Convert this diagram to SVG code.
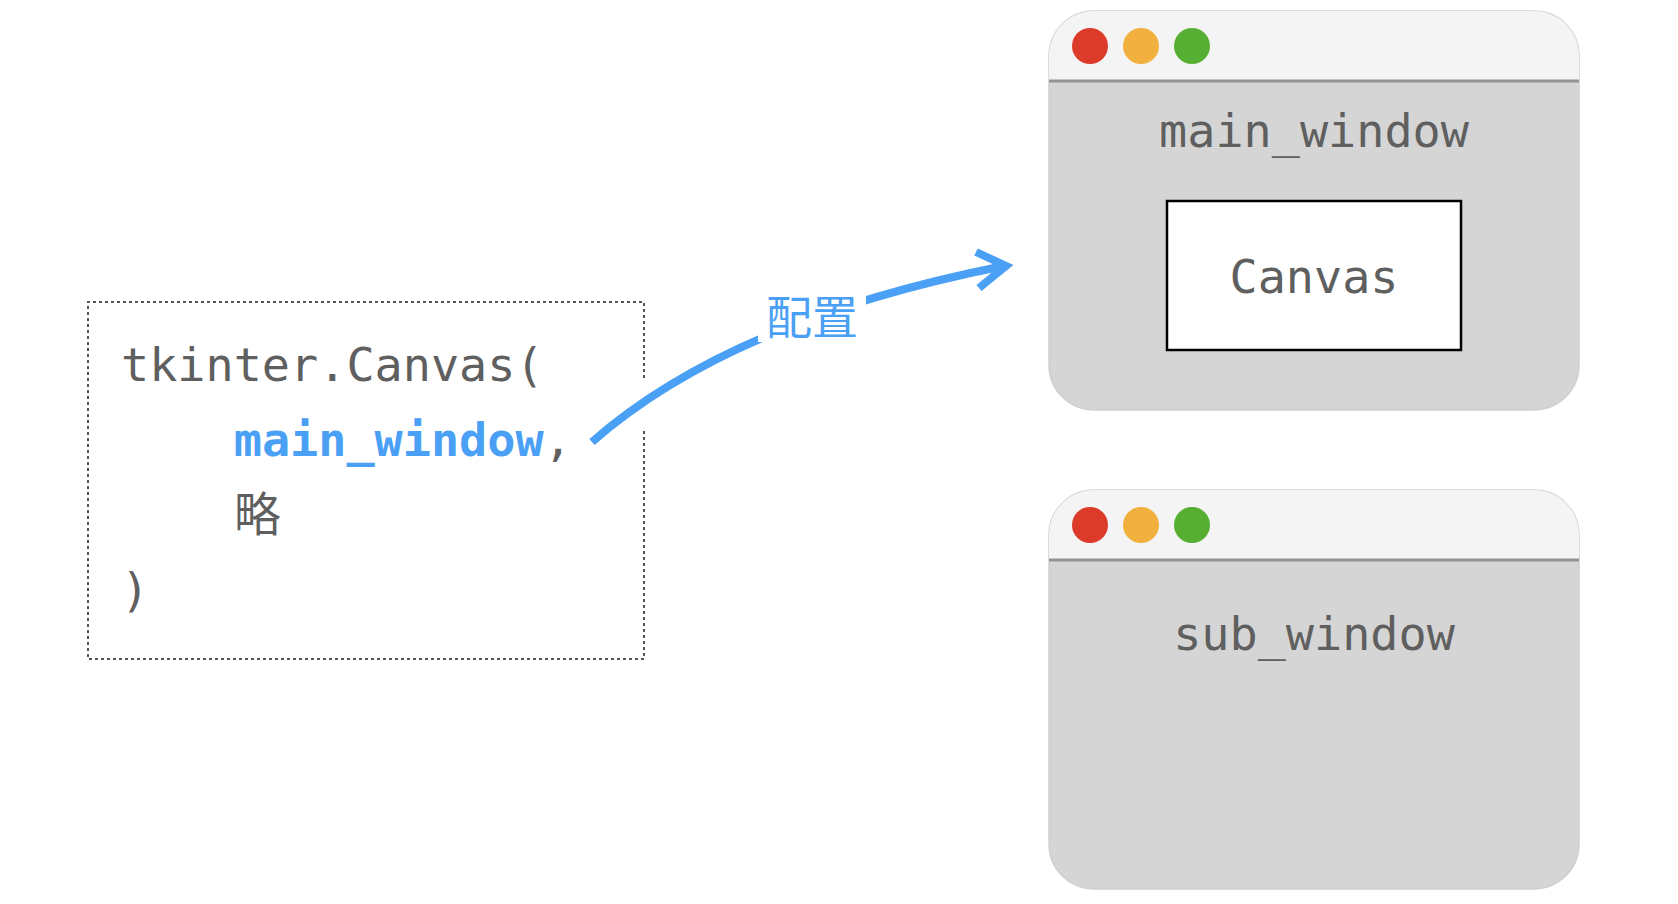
<svg xmlns="http://www.w3.org/2000/svg" width="1678" height="904" viewBox="0 0 1678 904">
<style>
.mono{font-family:"DejaVu Sans Mono","Noto Sans CJK SC",monospace;font-size:46.8px;fill:#5f5f5f}
.blue{fill:#4aa0f5}
.win{fill:#d5d5d5;stroke:#d0d0d0;stroke-width:1.5}
.bar{fill:#f4f4f4}
.sep{stroke:#939393;stroke-width:3}
.red{fill:#db3b28}
.ora{fill:#f2b13e}
.grn{fill:#56ae33}
.dash{fill:none;stroke:#555;stroke-width:2;stroke-dasharray:3 3}
.arrow{fill:none;stroke:#4aa0f5;stroke-width:8}
</style>
<defs>
<clipPath id="cm"><rect x="1049" y="11" width="530" height="399" rx="45"/></clipPath>
<clipPath id="cs"><rect x="1049" y="490" width="530" height="399" rx="45"/></clipPath>
</defs>
<rect width="1678" height="904" fill="#fff"/>

<g id="code">
<path class="dash" d="M644 378 V302 H88 V659 H644 V430"/>
<text class="mono" x="121" y="381">tkinter.Canvas(</text>
<text class="mono" x="121" y="456" xml:space="preserve">    <tspan class="blue" font-weight="bold">main_window</tspan>,</text>
<text class="mono" x="234" y="531">略</text>
<text class="mono" x="121" y="606">)</text>
</g>

<g id="main_window">
<rect class="win" x="1049" y="11" width="530" height="399" rx="45"/>
<rect class="bar" x="1049" y="11" width="530" height="70" clip-path="url(#cm)"/>
<line class="sep" x1="1049" y1="81" x2="1579" y2="81"/>
<circle class="red" cx="1090" cy="46" r="18"/>
<circle class="ora" cx="1141" cy="46" r="18"/>
<circle class="grn" cx="1192" cy="46" r="18"/>
<text class="mono" x="1314" y="147" text-anchor="middle">main_window</text>
</g>

<g id="canvas">
<rect x="1167" y="201" width="294" height="149" fill="#fff" stroke="#000" stroke-width="2.5"/>
<text class="mono" x="1314" y="293" text-anchor="middle">Canvas</text>
</g>

<g id="sub_window">
<rect class="win" x="1049" y="490" width="530" height="399" rx="45"/>
<rect class="bar" x="1049" y="490" width="530" height="70" clip-path="url(#cs)"/>
<line class="sep" x1="1049" y1="560" x2="1579" y2="560"/>
<circle class="red" cx="1090" cy="525" r="18"/>
<circle class="ora" cx="1141" cy="525" r="18"/>
<circle class="grn" cx="1192" cy="525" r="18"/>
<text class="mono" x="1314" y="650" text-anchor="middle">sub_window</text>
</g>

<g id="connectors">
<path class="arrow" d="M592 442 Q731 320 1004 266"/>
<path class="arrow" d="M976 252 L1006 266 L979 288" stroke-linejoin="miter"/>
<rect x="758" y="280" width="108" height="62" fill="#fff"/>
<text x="812" y="334" text-anchor="middle" font-family="'Noto Sans CJK SC',sans-serif" font-size="46" fill="#4aa0f5">配置</text>
</g>
</svg>
